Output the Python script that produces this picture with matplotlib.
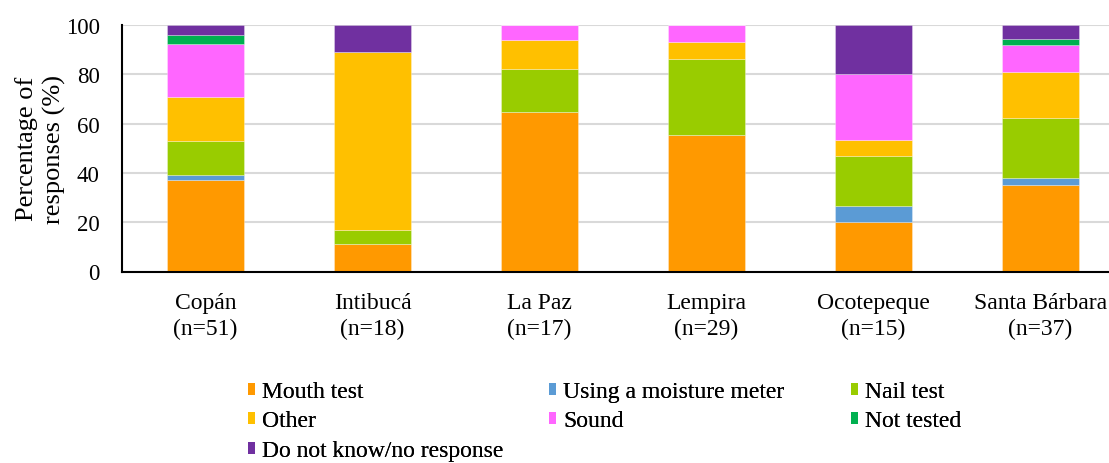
import numpy as np
import matplotlib
matplotlib.use("Agg")
import matplotlib.pyplot as plt
from matplotlib.patches import Patch

plt.rcParams['font.family'] = ['Liberation Serif', 'DejaVu Serif']

departments = ['Copán\n(n=51)', 'Intibucá\n(n=18)', 'La Paz\n(n=17)',
               'Lempira\n(n=29)', 'Ocotepeque\n(n=15)', 'Santa Bárbara\n(n=37)']

# percentage of responses per method, stacked bottom to top
mouth_test = [37.3, 11.1, 64.7, 55.2, 20.0, 35.1]
moisture_meter = [2.0, 0.0, 0.0, 0.0, 6.7, 2.7]
nail_test = [13.7, 5.6, 17.6, 31.0, 20.0, 24.3]
other = [17.6, 72.2, 11.8, 6.9, 6.7, 18.9]
sound = [21.6, 0.0, 5.9, 6.9, 26.7, 10.8]
not_tested = [3.9, 0.0, 0.0, 0.0, 0.0, 2.7]
no_response = [3.9, 11.1, 0.0, 0.0, 20.0, 5.4]

series = [
    ('Mouth test', mouth_test, '#ff9900'),
    ('Using a moisture meter', moisture_meter, '#5b9bd5'),
    ('Nail test', nail_test, '#99cc00'),
    ('Other', other, '#ffc000'),
    ('Sound', sound, '#ff66ff'),
    ('Not tested', not_tested, '#00b050'),
    ('Do not know/no response', no_response, '#7030a0'),
]

W, H = 1109, 464
fig = plt.figure(figsize=(W / 100, H / 100), dpi=100)
# axis runs a little past the right edge of the figure
ax = fig.add_axes([122 / W, 1 - 272.5 / H, 1002 / W, 246.5 / H])

x = np.arange(len(departments))
bottom = np.zeros(len(departments))
handles = {}
for name, vals, col in series:
    vals = np.array(vals)
    ax.bar(x, vals, width=0.46, bottom=bottom, color=col,
           edgecolor=(1, 1, 1, 0.35), linewidth=0.6, zorder=3)
    handles[name] = Patch(facecolor=col, edgecolor='none', label=name)
    bottom += vals

ax.set_xlim(-0.5, 5.5)
ax.set_ylim(0, 100)
ax.set_yticks(np.arange(0, 101, 20))
ax.yaxis.grid(True, color='#d9d9d9', linewidth=1.5, zorder=0)
ax.set_axisbelow(True)
for s in ['top', 'right']:
    ax.spines[s].set_visible(False)
for s in ['left', 'bottom']:
    ax.spines[s].set_linewidth(1.5)
    ax.spines[s].set_zorder(4)
ax.tick_params(axis='both', length=0)
ax.tick_params(axis='y', pad=16, labelsize=16.5)
ax.tick_params(axis='x', pad=15, labelsize=17)
ax.set_xticks(x)
ax.set_xticklabels(departments, linespacing=1.3)
ax.set_ylabel('Percentage of\nresponses (%)', fontsize=19, linespacing=1.25)
ax.yaxis.set_label_coords(-(122 - 66) / 1002, 0.5)

# one legend per column, rows read left to right
columns = [
    (248, ['Mouth test', 'Other', 'Do not know/no response']),
    (549, ['Using a moisture meter', 'Sound']),
    (851, ['Nail test', 'Not tested']),
]
for xpos, names in columns:
    leg = fig.legend([handles[k] for k in names], names,
                     loc='upper left', bbox_to_anchor=(xpos / W, 1 - 382 / H),
                     frameon=False, fontsize=17, handlelength=0.3,
                     handleheight=0.4, handletextpad=0.3, labelspacing=0.36,
                     borderpad=0, borderaxespad=0)
    fig.add_artist(leg)

fig.savefig('out.png', dpi=100)
